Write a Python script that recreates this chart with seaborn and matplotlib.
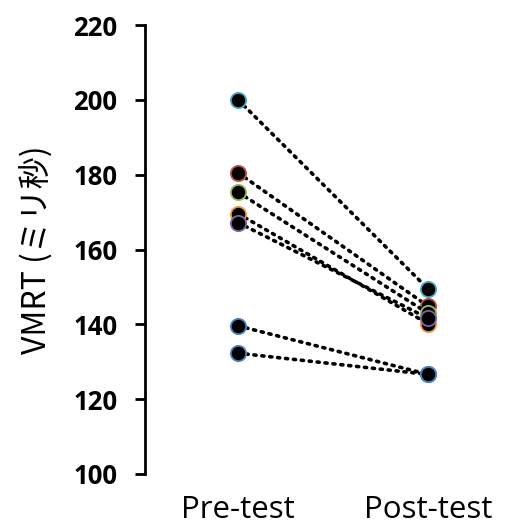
import matplotlib
matplotlib.use("Agg")
import matplotlib.pyplot as plt
import seaborn as sns
import pandas as pd

# values
conditions = ["Pre-test", "Post-test"]
subjects = ["s1", "s2", "s3", "s4", "s5", "s6", "s7"]
pre_test = [200.0, 180.5, 175.3, 169.6, 167.2, 139.6, 132.3]
post_test = [149.4, 144.8, 142.9, 140.1, 141.6, 126.6, 126.6]
edge_colors = ["#4bacc6", "#c0504d", "#9bbb59", "#f79646", "#8064a2", "#4f81bd", "#4f81bd"]
y_ticks = [100, 120, 140, 160, 180, 200, 220]

sns.set_style("white")
plt.rcParams['font.family'] = ['Noto Sans CJK JP', 'DejaVu Sans']
plt.rcParams['text.color'] = 'black'
plt.rcParams['xtick.color'] = 'black'
plt.rcParams['ytick.color'] = 'black'
plt.rcParams['axes.labelcolor'] = 'black'

df = pd.DataFrame({
    "subject": subjects * 2,
    "x": [0] * len(subjects) + [1] * len(subjects),
    "vmrt": pre_test + post_test,
})

fig = plt.figure(figsize=(5.05, 5.30), dpi=100)
ax = fig.add_axes([0.287, 0.1057, 0.693, 0.847])

for subj, ec in zip(subjects, edge_colors):
    sub = df[df.subject == subj]
    sns.lineplot(data=sub, x="x", y="vmrt", ax=ax, color="black",
                 linewidth=2.6, linestyle=(0, (0.6, 1.6)), dash_capstyle="round",
                 marker="o", markersize=11, markerfacecolor="black",
                 markeredgecolor=ec, markeredgewidth=1.3, legend=False)

ax.set_xlim(-0.49, 1.35)
ax.set_ylim(100, 220)
ax.set_yticks(y_ticks)
ax.set_yticklabels([str(v) for v in y_ticks], fontsize=18.5, fontweight="bold",
                   family=["Open Sans", "DejaVu Sans"])
ax.set_xticks([0, 1])
ax.set_xticklabels(conditions, fontsize=22.5, family=["Open Sans", "DejaVu Sans"])
ax.tick_params(axis="x", length=0, pad=15)
ax.tick_params(axis="y", direction="out", length=7, width=2, left=True, pad=13)
ax.set_xlabel("")
ax.set_ylabel("VMRT (ミリ秒)", fontsize=23, labelpad=14)

for s in ["top", "right", "bottom"]:
    ax.spines[s].set_visible(False)
ax.spines["left"].set_linewidth(2)
ax.spines["left"].set_color("black")

fig.savefig("out.png", dpi=100)
